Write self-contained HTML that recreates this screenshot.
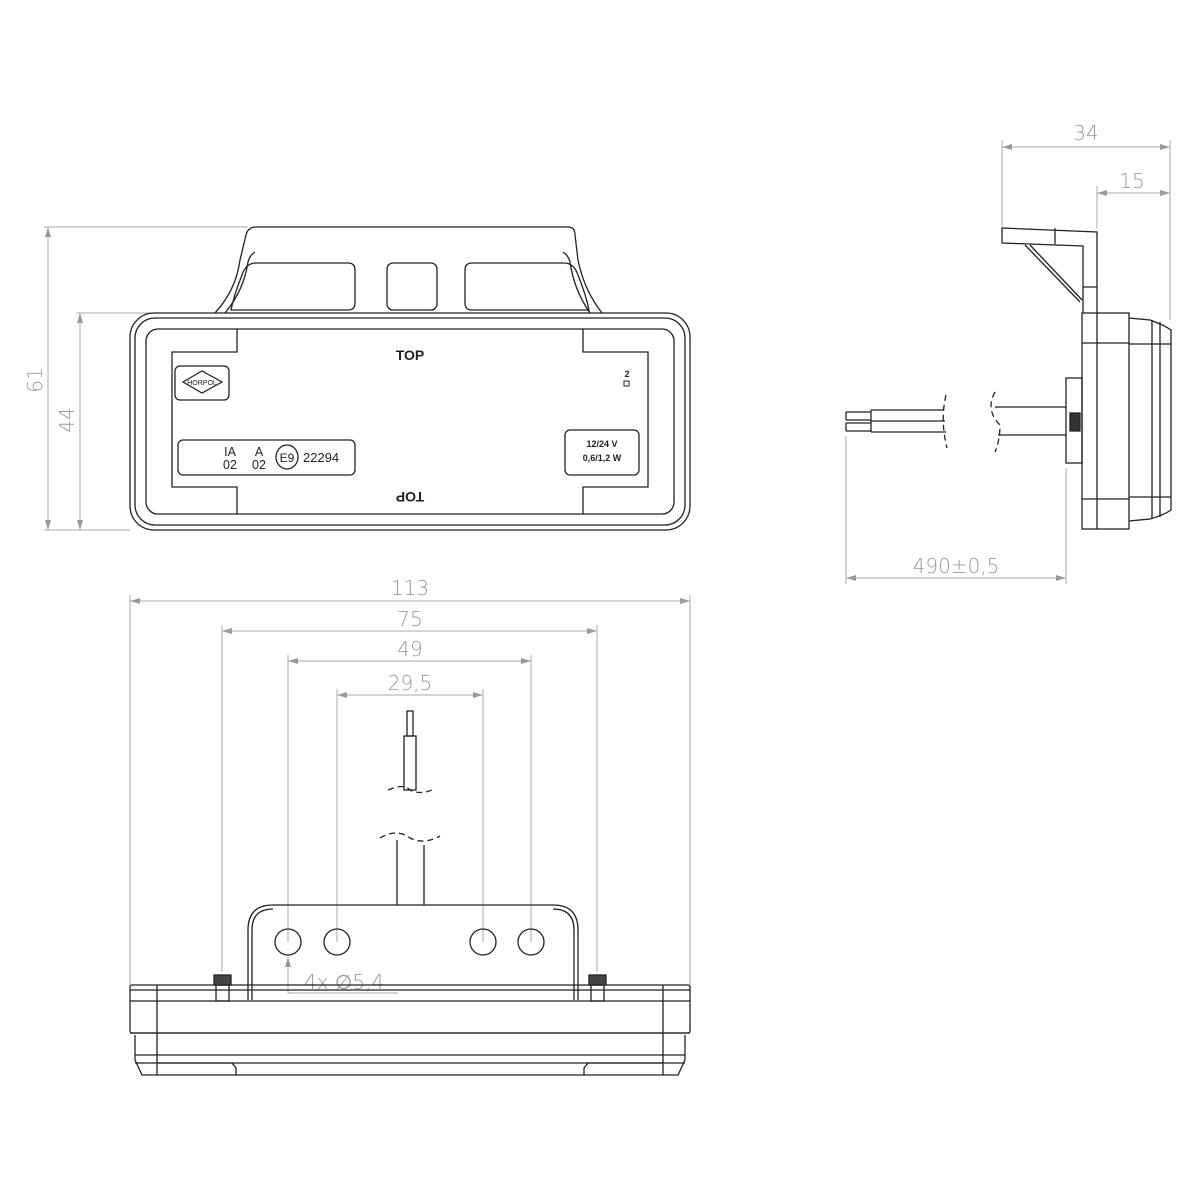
<!DOCTYPE html>
<html><head><meta charset="utf-8"><style>html,body{margin:0;padding:0;background:#fff}svg{display:block}</style></head>
<body>
<svg width="1200" height="1200" viewBox="0 0 1200 1200" xmlns="http://www.w3.org/2000/svg">
<defs>
<marker id="a" viewBox="0 0 10 6" refX="10" refY="3" markerWidth="10" markerHeight="6" orient="auto-start-reverse" markerUnits="userSpaceOnUse"><path d="M0,0 L10,3 L0,6 z" fill="#999"/></marker>
</defs>
<g stroke="#aaa" stroke-width="1" fill="none">
<line x1="44" y1="227" x2="248" y2="227"/><line x1="44" y1="530" x2="130" y2="530"/><line x1="76" y1="313" x2="215" y2="313"/>
<line x1="48" y1="227" x2="48" y2="530" marker-start="url(#a)" marker-end="url(#a)"/>
<line x1="80" y1="313" x2="80" y2="530" marker-start="url(#a)" marker-end="url(#a)"/>
<line x1="1002" y1="140" x2="1002" y2="228"/><line x1="1170" y1="140" x2="1170" y2="320"/><line x1="1097" y1="186" x2="1097" y2="228"/>
<line x1="1002" y1="147" x2="1170" y2="147" marker-start="url(#a)" marker-end="url(#a)"/>
<line x1="1097" y1="193" x2="1170" y2="193" marker-start="url(#a)" marker-end="url(#a)"/>
<line x1="846" y1="436" x2="846" y2="584"/><line x1="1066" y1="468" x2="1066" y2="584"/>
<line x1="846" y1="578" x2="1066" y2="578" marker-start="url(#a)" marker-end="url(#a)"/>
<line x1="130" y1="595" x2="130" y2="985"/><line x1="690" y1="595" x2="690" y2="985"/>
<line x1="222" y1="625" x2="222" y2="972"/><line x1="597" y1="625" x2="597" y2="972"/>
<line x1="288" y1="655" x2="288" y2="942"/><line x1="531" y1="655" x2="531" y2="942"/>
<line x1="337" y1="689" x2="337" y2="942"/><line x1="483" y1="689" x2="483" y2="942"/>
<line x1="130" y1="601" x2="690" y2="601" marker-start="url(#a)" marker-end="url(#a)"/>
<line x1="222" y1="631" x2="597" y2="631" marker-start="url(#a)" marker-end="url(#a)"/>
<line x1="288" y1="661" x2="531" y2="661" marker-start="url(#a)" marker-end="url(#a)"/>
<line x1="337" y1="695" x2="483" y2="695" marker-start="url(#a)" marker-end="url(#a)"/>
<polyline points="398,993 288,993 288,957" marker-end="url(#a)"/>
</g>
<g font-family="'DejaVu Sans','Liberation Sans',sans-serif" font-size="20" fill="#999" font-weight="300">
<text x="42" y="380" text-anchor="middle" transform="rotate(-90 42 380)">61</text>
<text x="74" y="420" text-anchor="middle" transform="rotate(-90 74 420)">44</text>
<text x="1086" y="140" text-anchor="middle">34</text>
<text x="1132" y="188" text-anchor="middle">15</text>
<text x="956" y="573" text-anchor="middle">490±0,5</text>
<text x="410" y="595" text-anchor="middle">113</text>
<text x="410" y="626" text-anchor="middle">75</text>
<text x="410" y="656" text-anchor="middle">49</text>
<text x="410" y="690" text-anchor="middle">29,5</text>
<text x="304" y="989">4x ∅5,4</text>
</g>
<g stroke="#222" stroke-width="1.3" fill="none">
<path d="M215,313 Q236,290 240,260 L246,235 Q248,227 256,227 L568,227 Q575,227 575,235 L578,260 Q584,290 602,313"/>
<path d="M225,313 Q244,290 248,262 Q250,255 255,252 M590,313 Q574,290 570,262 Q568,255 563,252"/>
<path d="M231,310 Q234,295 242,275 Q246,263 256,263 L348,263 Q355,263 355,270 L355,303 Q355,310 348,310 Z"/>
<rect x="387" y="263" width="50" height="47" rx="6"/>
<path d="M465,270 Q465,263 472,263 L564,263 Q574,263 578,275 Q586,295 589,310 L472,310 Q465,310 465,303 Z"/>
<rect x="130" y="313" width="560" height="217" rx="24"/>
<rect x="135" y="318" width="550" height="207" rx="20"/>
<rect x="146" y="329" width="528" height="185" rx="12"/>
<path d="M237,329 L237,352 L172,352 L172,487 L237,487 L237,514"/>
<path d="M583,329 L583,352 L648,352 L648,487 L583,487 L583,514"/>
<rect x="175" y="366" width="54" height="34" rx="5"/>
<polygon points="183,382 202,371 222,382 202,393" stroke-width="1.2"/>
<rect x="178" y="440" width="177" height="35" rx="5"/>
<rect x="565" y="430" width="74" height="45" rx="5"/>
<ellipse cx="287" cy="457" rx="11" ry="12"/>
<rect x="624" y="381" width="5" height="5" stroke-width="1"/>
<path d="M1002,228 L1097,232 L1097,313 M1002,228 L1002,243 L1083,246 L1083,313 M1055,228 L1055,244 M1083,287 L1097,287"/>
<path d="M1025,245 L1080,302 M1030,245 L1082,300"/>
<rect x="1082" y="313" width="47" height="216"/>
<line x1="1097" y1="313" x2="1097" y2="529"/>
<line x1="1082" y1="343" x2="1129" y2="343"/><line x1="1082" y1="499" x2="1129" y2="499"/>
<path d="M1129,318 L1150,320 Q1164,325 1171,330 L1171,510 Q1164,515 1150,519 L1129,521"/>
<line x1="1152" y1="320" x2="1152" y2="519"/><line x1="1160" y1="322" x2="1160" y2="517"/>
<line x1="1129" y1="344" x2="1171" y2="344"/><line x1="1129" y1="497" x2="1171" y2="497"/>
<rect x="1066" y="378" width="16" height="85"/>
<rect x="1070" y="413" width="10" height="18" fill="#333"/>
<line x1="995" y1="407" x2="1066" y2="407"/><line x1="998" y1="435" x2="1066" y2="435"/>
<path d="M871,410 L944,410 M871,421 L945,421 M871,432 L946,432 M871,410 L871,432 M846,412 L871,412 M846,420 L871,420 M846,423 L871,423 M846,431 L871,431 M846,412 L846,420 M846,423 L846,431"/>
<path d="M946,395 Q940,420 947,448" stroke-dasharray="6,4"/>
<path d="M995,392 Q985,410 1000,425 Q1000,440 995,452" stroke-dasharray="6,4"/>
<path d="M248,1000 L248,930 Q248,905 273,905 L553,905 Q578,905 578,930 L578,1000"/>
<path d="M252,1000 L252,930 Q252,909 273,909 M574,1000 L574,930 Q574,909 553,909"/>
<circle cx="288" cy="942" r="13"/><circle cx="337" cy="942" r="13"/><circle cx="483" cy="942" r="13"/><circle cx="531" cy="942" r="13"/>
<rect x="130" y="985" width="560" height="48" rx="2"/>
<line x1="130" y1="990" x2="690" y2="990"/><line x1="130" y1="1001" x2="690" y2="1001"/>
<line x1="130" y1="1033" x2="690" y2="1033"/>
<path d="M135,1035 L135,1060 L142,1075 L678,1075 L685,1060 L685,1035"/>
<line x1="135" y1="1055" x2="685" y2="1055"/><line x1="135" y1="1063" x2="685" y2="1063"/>
<line x1="157" y1="985" x2="157" y2="1075"/><line x1="663" y1="985" x2="663" y2="1075"/>
<path d="M157,1063 L232,1063 L236,1068 L236,1075 M663,1063 L588,1063 L584,1068 L584,1075"/>
<rect x="216" y="985" width="13" height="16"/><rect x="214" y="975" width="17" height="10" fill="#444"/>
<rect x="591" y="985" width="13" height="16"/><rect x="589" y="975" width="17" height="10" fill="#444"/>
<line x1="397" y1="840" x2="397" y2="905"/><line x1="424" y1="845" x2="424" y2="905"/>
<path d="M380,838 Q397,828 410,838 Q424,845 440,836" stroke-dasharray="6,4"/>
<rect x="407" y="711" width="6" height="25"/>
<rect x="404" y="736" width="12" height="54"/>
<path d="M388,790 Q404,783 410,790 Q420,795 432,790" stroke-dasharray="6,4"/>
</g>
<g font-family="'Liberation Sans',sans-serif" font-weight="bold" fill="#222">
<text x="410" y="360" font-size="14" text-anchor="middle">TOP</text>
<text x="410" y="482" font-size="14" text-anchor="middle" transform="rotate(180 410 487)">TOP</text>
<text x="627" y="377" font-size="9" text-anchor="middle">2</text>
<text x="602" y="447" font-size="9" text-anchor="middle">12/24 V</text>
<text x="602" y="461" font-size="9" text-anchor="middle">0,6/1,2 W</text>
<text x="202" y="385" font-size="7" text-anchor="middle" font-weight="normal">HORPOL</text>
</g>
<g font-family="'Liberation Sans',sans-serif" fill="#222" font-size="12.5">
<text x="230" y="456" text-anchor="middle">IA</text><text x="230" y="469" text-anchor="middle">02</text>
<text x="259" y="456" text-anchor="middle">A</text><text x="259" y="469" text-anchor="middle">02</text>
<text x="287" y="462" text-anchor="middle" font-size="12">E9</text>
<text x="303" y="462" font-size="13">22294</text>
</g>
</svg>
</body></html>
